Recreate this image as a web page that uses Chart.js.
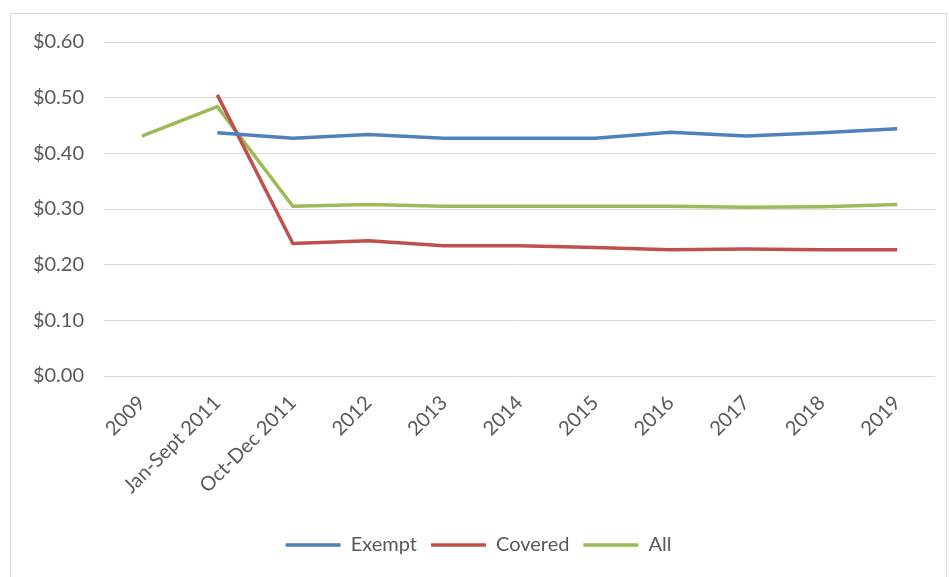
<!DOCTYPE html>
<html>
<head>
<meta charset="utf-8">
<script src="https://cdn.jsdelivr.net/npm/chart.js@4"></script>
<style>
  body { margin: 0; background: #fff; }
  #frame { position: absolute; left: 10px; top: 13px; width: 935px; height: 580px; border: 1px solid #d9d9d9; }
  #wrap { position: absolute; left: 0; top: 0; width: 949px; height: 577px; }
</style>
</head>
<body>
<div id="frame"></div>
<div id="wrap"><canvas id="myChart"></canvas></div>
<script>
const categories = ["2009", "Jan-Sept 2011", "Oct-Dec 2011", "2012", "2013", "2014", "2015", "2016", "2017", "2018", "2019"];
const exempt = [null, 0.437, 0.427, 0.434, 0.427, 0.427, 0.427, 0.438, 0.431, 0.437, 0.444];
const covered = [null, 0.505, 0.238, 0.243, 0.234, 0.234, 0.231, 0.227, 0.228, 0.227, 0.227];
const all = [0.431, 0.484, 0.305, 0.308, 0.305, 0.305, 0.305, 0.305, 0.303, 0.304, 0.308];

const textColor = "#595959";
const font = { family: "Lato", size: 20 };

const data = {
  labels: categories,
  datasets: [
    { label: "Exempt", data: exempt, borderColor: "#4f81bd", backgroundColor: "#4f81bd" },
    { label: "Covered", data: covered, borderColor: "#c0504d", backgroundColor: "#c0504d" },
    { label: "All", data: all, borderColor: "#9bbb59", backgroundColor: "#9bbb59" }
  ].map(d => Object.assign(d, { borderWidth: 3.5, pointRadius: 0, tension: 0, fill: false, pointStyle: "line" }))
};

const config = {
  type: "line",
  data: data,
  options: {
    responsive: false,
    animation: false,
    layout: { padding: { left: 22, right: 14, top: 42, bottom: 12 } },
    plugins: {
      tooltip: { enabled: false },
      legend: {
        position: "bottom",
        labels: { usePointStyle: true, pointStyleWidth: 55, padding: 14, color: textColor, font: font }
      }
    },
    scales: {
      x: {
        offset: true,
        grid: { display: false },
        border: { display: false },
        ticks: { color: textColor, font: font, minRotation: 45, maxRotation: 45, autoSkip: false, padding: 7 },
        afterFit: axis => { axis.height = 145; }
      },
      y: {
        min: 0,
        max: 0.6,
        grid: { color: "#d9d9d9", lineWidth: 1, drawTicks: false },
        border: { display: false },
        ticks: {
          stepSize: 0.1,
          color: textColor,
          font: font,
          padding: 20,
          callback: v => "$" + Number(v).toFixed(2)
        },
        afterFit: axis => { axis.width = 82; }
      }
    }
  }
};

const canvas = document.getElementById("myChart");
canvas.width = 949;
canvas.height = 577;
new Chart(canvas.getContext("2d"), config);
</script>
</body>
</html>
